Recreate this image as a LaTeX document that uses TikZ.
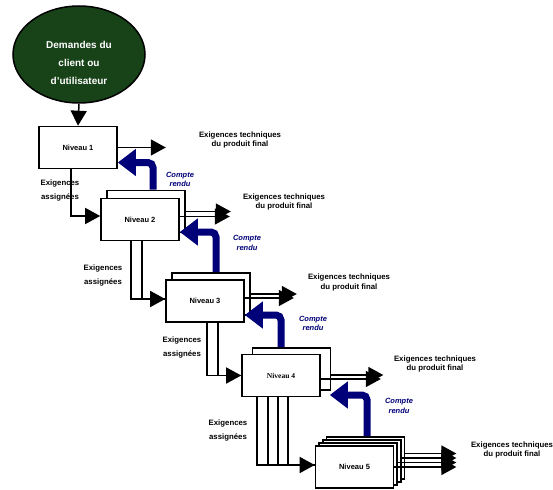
\documentclass[tikz,border=0pt]{standalone}
\usepackage{fontspec}
\setmainfont{Liberation Sans}
\newfontfamily\timesfont{Liberation Serif}
\usetikzlibrary{shapes.geometric,arrows.meta}
\definecolor{vertfonce}{RGB}{24,66,24}
\definecolor{marine}{RGB}{0,0,120}
\tikzset{
	demande/.style={ellipse, draw, line width=1.5pt, fill=vertfonce, minimum width=132pt, minimum height=97pt, inner sep=0pt},
	demtxt/.style={align=center, text=white, font=\bfseries\fontsize{10}{18}\selectfont},
	niv/.style={draw, line width=1.6pt, fill=white, minimum width=78pt, minimum height=42pt, inner sep=0pt, font=\bfseries\fontsize{7.5}{9}\selectfont},
	req/.style={line width=1.5pt, -{Triangle[length=15pt,width=16pt]}},
	cr/.style={draw=marine, line width=7pt, rounded corners=5pt, -{Triangle[length=18pt,width=26pt]}},
	techtxt/.style={align=center, font=\bfseries\fontsize{7.8}{9.5}\selectfont},
	crtxt/.style={align=center, text=marine, font=\bfseries\itshape\fontsize{7.5}{9.5}\selectfont},
	assigtxt/.style={align=center, font=\bfseries\fontsize{7.8}{14}\selectfont}
}
\begin{document}
\begin{tikzpicture}[x=1pt,y=-1pt]
	\useasboundingbox (0,0) rectangle (553,489);
	\node[demande] (dem) at (79,54.5) {};
	\node[demtxt] (demt) at (79,63) {Demandes du\\client ou\\d'utilisateur};
	\node[niv] (n1) at (78,147.5) {Niveau 1};
	\node[niv] (n2b) at (146,211.5) {};
	\node[niv] (n2) at (140,219.5) {Niveau 2};
	\node[niv] (n3b) at (211,294) {};
	\node[niv] (n3) at (205,301) {Niveau 3};
	\node[niv] (n4b) at (291.5,369) {};
	\node[niv] (n4) at (281,375.5) {\timesfont\bfseries Niveau 4};
	\foreach \k in {3,2,1}
		\node[niv] (n5-\k) at ({354.5+3.7*\k},{467-3*\k}) {};
	\node[niv] (n5) at (354.5,467) {Niveau 5};

	\draw[req] (dem.south) -- (n1.north);

	\draw[req] (n1.east) -- ++(48,0);
	\draw[req] (n2b.east) -- ++(45,0);
	\draw[req] ([yshift=3pt]n2.east) -- ++(50,0);
	\draw[req] (n3b.east) -- ++(46,0);
	\draw[req] ([yshift=3pt]n3.east) -- ++(49,0);
	\draw[req] ([yshift=-6pt]n4b.east) -- ++(52,0);
	\draw[req] ([yshift=-3.5pt]n4.east) -- ++(60,0);
	\draw[req] (n5.east) -- ++(62,0);
	\foreach \k in {1,2,3}
		\draw[req] ([yshift={1.5*\k}]n5-\k.east) -- ++({62-3.7*\k},0);

	\draw[req] ([xshift=-7pt]n1.south) |- ([yshift=3.5pt]n2.west);
	\draw[line width=1.5pt] ([xshift=2pt]n2.south) |- ([yshift=2pt]n3.west);
	\draw[req] ([xshift=-9pt]n2.south) |- ([yshift=2pt]n3.west);
	\draw[line width=1.5pt] ([xshift=13pt]n3.south) |- (n4.west);
	\draw[req] ([xshift=2pt]n3.south) |- (n4.west);
	\foreach \dx in {-13,-3,7}
		\draw[line width=1.5pt] ([xshift=\dx]n4.south) |- ([yshift=2pt]n5.west);
	\draw[req] ([xshift=-24pt]n4.south) |- ([yshift=2pt]n5.west);

	\draw[cr] ([xshift=7pt]n2b.north) |- ([yshift=-15pt]n1.east);
	\draw[cr] ([xshift=5pt]n3b.north) |- ([yshift=-12.5pt]n2.east);
	\draw[cr] ([xshift=-10.5pt]n4b.north) |- ([yshift=-14pt]n3.east);
	\draw[cr] ([xshift=1.5pt]n5-3.north) |- ([xshift=9pt,yshift=-19.5pt]n4.east);

	\node[techtxt] (t1) at (240,140) {Exigences techniques\\du produit final};
	\node[techtxt] (t2) at (284,202) {Exigences techniques\\du produit final};
	\node[techtxt] (t3) at (349,282.5) {Exigences techniques\\du produit final};
	\node[techtxt] (t4) at (435,364) {Exigences techniques\\du produit final};
	\node[techtxt] (t5) at (512,450) {Exigences techniques\\du produit final};

	\node[crtxt] (c1) at (180,179.5) {Compte\\rendu};
	\node[crtxt] (c2) at (247,243) {Compte\\rendu};
	\node[crtxt] (c3) at (313,323.5) {Compte\\rendu};
	\node[crtxt] (c4) at (399,406) {Compte\\rendu};

	\node[assigtxt] (a1) at (60,190) {Exigences\\assignées};
	\node[assigtxt] (a2) at (103,275) {Exigences\\assignées};
	\node[assigtxt] (a3) at (182,347) {Exigences\\assignées};
	\node[assigtxt] (a4) at (228,430) {Exigences\\assignées};
\end{tikzpicture}
\end{document}
